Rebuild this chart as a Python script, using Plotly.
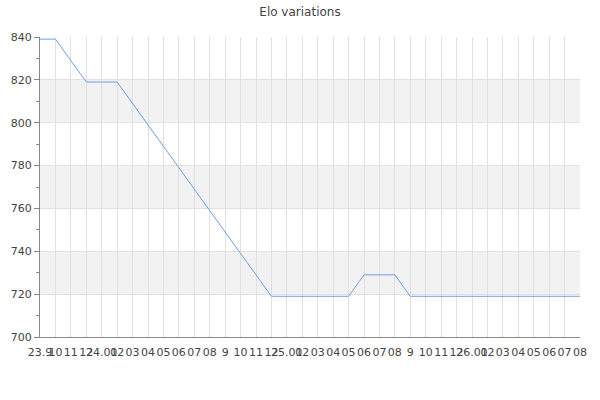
import plotly.graph_objects as go

# Month ticks as they appear under the axis
tick_labels = ["23.9", "10", "11", "12", "24.01", "02", "03", "04", "05", "06", "07", "08",
               "9", "10", "11", "12", "25.01", "02", "03", "04", "05", "06", "07", "08",
               "9", "10", "11", "12", "26.01", "02", "03", "04", "05", "06", "07", "08"]

# Elo rating at each tick
elo = [839, 839, 829, 819, 819, 819, 809, 799, 789, 779, 769, 759,
       749, 739, 729, 719, 719, 719, 719, 719, 719, 729, 729, 729,
       719, 719, 719, 719, 719, 719, 719, 719, 719, 719, 719, 719]

y_ticks = [700, 720, 740, 760, 780, 800, 820, 840]

x = list(range(len(elo)))

fig = go.Figure()
fig.add_trace(go.Scatter(
    x=x, y=elo,
    mode="lines",
    line=dict(color="#6d9eeb", width=1),
    hoverinfo="x+y",
))

# alternating grey bands
shapes = []
for i in range(1, len(y_ticks) - 1, 2):
    shapes.append(dict(
        type="rect", xref="paper", yref="y",
        x0=0, x1=1, y0=y_ticks[i], y1=y_ticks[i + 1],
        fillcolor="#f2f2f2", line_width=0, layer="below",
    ))

fig.update_layout(
    width=600, height=400,
    title=dict(text="Elo variations", x=0.5, xanchor="center",
               y=0.97, yanchor="middle",
               font=dict(family="DejaVu Sans", size=12, color="#444444")),
    font=dict(family="DejaVu Sans", size=11, color="#444444"),
    plot_bgcolor="white",
    paper_bgcolor="white",
    showlegend=False,
    margin=dict(l=40, r=20, t=37, b=63),
    shapes=shapes,
    xaxis=dict(
        range=[0, len(elo) - 1],
        tickmode="array", tickvals=x, ticktext=tick_labels,
        tickangle=0,
        showgrid=True, gridcolor="#e0e0e0", gridwidth=1,
        zeroline=False,
        showline=True, linecolor="#888888", linewidth=1,
        ticks="outside", ticklen=5, tickcolor="rgba(0,0,0,0)",
    ),
    yaxis=dict(
        range=[700, 840],
        tickmode="array", tickvals=y_ticks,
        showgrid=True, gridcolor="#e0e0e0", gridwidth=1,
        zeroline=False,
        showline=True, linecolor="#888888", linewidth=1,
        ticks="outside", ticklen=5, tickcolor="#888888",
        minor=dict(dtick=10, tick0=700, ticks="outside", ticklen=3,
                   tickcolor="#888888", showgrid=False),
    ),
)

fig.write_html("out.html", config={"displayModeBar": False},
               post_script="document.body.style.margin='0';")
